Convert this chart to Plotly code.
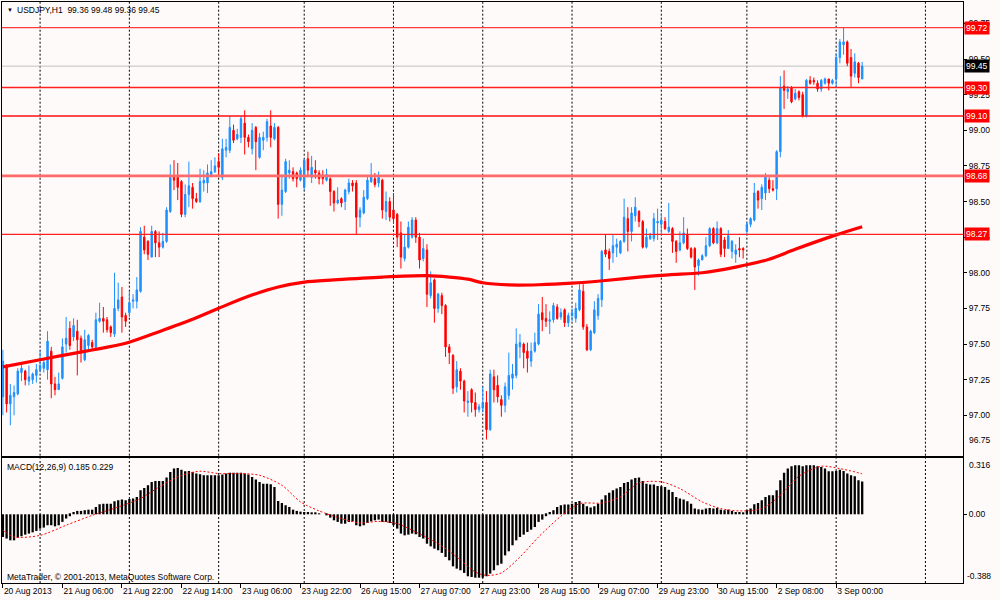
import plotly.graph_objects as go

# ---------------- data ----------------
OPEN = [
 97.13, 97.35, 97.08, 97.13, 97.15, 97.30, 97.31, 97.24, 97.25, 97.28,
 97.32, 97.33, 97.32, 97.45, 97.22, 97.18, 97.26, 97.50, 97.61, 97.55,
 97.59, 97.54, 97.39, 97.49, 97.51, 97.48, 97.66, 97.68, 97.67, 97.62,
 97.57, 97.75, 97.83, 97.70, 97.72, 97.80, 97.80, 97.87, 98.25, 98.22,
 98.11, 98.29, 98.21, 98.18, 98.22, 98.43, 98.68, 98.67, 98.64, 98.41,
 98.55, 98.60, 98.52, 98.50, 98.63, 98.63, 98.69, 98.71, 98.78, 98.67,
 98.86, 98.86, 99.00, 98.94, 98.95, 99.05, 98.95, 98.87, 99.02, 98.81,
 98.93, 98.95, 99.03, 98.94, 99.02, 98.48, 98.57, 98.70, 98.71, 98.70,
 98.65, 98.60, 98.80, 98.67, 98.72, 98.70, 98.68, 98.65, 98.66, 98.57,
 98.49, 98.52, 98.50, 98.57, 98.63, 98.63, 98.39, 98.42, 98.52, 98.64,
 98.66, 98.63, 98.65, 98.43, 98.50, 98.44, 98.41, 98.28, 98.10, 98.18,
 98.25, 98.37, 98.25, 98.10, 98.16, 97.84, 97.95, 97.75, 97.84, 97.77,
 97.48, 97.42, 97.20, 97.31, 97.24, 97.09, 97.18, 97.09, 97.04, 97.05,
 97.09, 96.90, 97.27, 97.21, 97.11, 97.07, 97.14, 97.26, 97.28, 97.48,
 97.50, 97.45, 97.38, 97.45, 97.50, 97.72, 97.68, 97.66, 97.67, 97.76,
 97.69, 97.74, 97.65, 97.70, 97.68, 97.74, 97.87, 97.62, 97.46, 97.58,
 97.70, 97.81, 98.16, 98.15, 98.14, 98.18, 98.14, 98.22, 98.38, 98.29,
 98.40, 98.43, 98.36, 98.18, 98.24, 98.24, 98.35, 98.34, 98.36, 98.29,
 98.31, 98.22, 98.16, 98.21, 98.27, 98.17, 98.17, 98.05, 98.09, 98.12,
 98.19, 98.31, 98.21, 98.31, 98.23, 98.17, 98.15, 98.13, 98.17, 98.17,
 98.29, 98.34, 98.37, 98.57, 98.52, 98.56, 98.65, 98.59, 98.59, 98.85,
 99.31, 99.27, 99.30, 99.22, 99.27, 99.25, 99.10, 99.35, 99.35, 99.33,
 99.29, 99.33, 99.36, 99.33, 99.36, 99.51, 99.60, 99.62, 99.51, 99.40,
 99.47, 99.36]

HIGH = [
 97.46, 97.36, 97.22, 97.21, 97.33, 97.36, 97.32, 97.35, 97.30, 97.36,
 97.45, 97.40, 97.59, 97.48, 97.27, 97.30, 97.54, 97.69, 97.66, 97.68,
 97.67, 97.56, 97.60, 97.57, 97.53, 97.72, 97.79, 97.76, 97.69, 97.63,
 98.00, 97.93, 97.90, 97.72, 97.87, 97.85, 97.97, 98.32, 98.33, 98.23,
 98.33, 98.30, 98.29, 98.28, 98.46, 98.76, 98.79, 98.77, 98.65, 98.62,
 98.78, 98.63, 98.56, 98.73, 98.72, 98.76, 98.79, 98.81, 98.84, 98.94,
 98.94, 99.10, 99.04, 99.01, 99.10, 99.14, 98.97, 99.05, 99.03, 98.98,
 98.99, 99.08, 99.14, 99.05, 99.03, 98.69, 98.80, 98.79, 98.74, 98.71,
 98.74, 98.80, 98.85, 98.82, 98.79, 98.72, 98.72, 98.73, 98.67, 98.58,
 98.60, 98.53, 98.59, 98.66, 98.65, 98.65, 98.46, 98.58, 98.68, 98.77,
 98.70, 98.71, 98.66, 98.57, 98.53, 98.56, 98.42, 98.36, 98.27, 98.36,
 98.39, 98.39, 98.28, 98.24, 98.20, 98.01, 97.96, 97.86, 97.86, 97.78,
 97.50, 97.43, 97.38, 97.33, 97.25, 97.17, 97.19, 97.16, 97.08, 97.20,
 97.17, 97.32, 97.32, 97.28, 97.14, 97.23, 97.44, 97.36, 97.61, 97.57,
 97.51, 97.51, 97.51, 97.58, 97.78, 97.83, 97.78, 97.73, 97.79, 97.78,
 97.75, 97.75, 97.72, 97.75, 97.79, 97.92, 97.92, 97.64, 97.60, 97.80,
 97.85, 98.16, 98.27, 98.17, 98.27, 98.24, 98.23, 98.52, 98.46, 98.46,
 98.53, 98.44, 98.37, 98.31, 98.28, 98.42, 98.45, 98.42, 98.39, 98.49,
 98.32, 98.23, 98.29, 98.39, 98.31, 98.18, 98.18, 98.10, 98.13, 98.25,
 98.32, 98.32, 98.36, 98.32, 98.25, 98.30, 98.23, 98.20, 98.25, 98.18,
 98.36, 98.39, 98.63, 98.58, 98.62, 98.70, 98.67, 98.65, 98.86, 99.38,
 99.42, 99.31, 99.31, 99.29, 99.28, 99.27, 99.36, 99.38, 99.37, 99.35,
 99.36, 99.37, 99.36, 99.36, 99.54, 99.64, 99.72, 99.63, 99.57, 99.54,
 99.48, 99.48]

LOW = [
 97.00, 97.02, 96.93, 97.00, 97.14, 97.24, 97.21, 97.21, 97.22, 97.23,
 97.30, 97.30, 97.25, 97.12, 97.14, 97.18, 97.25, 97.44, 97.46, 97.52,
 97.28, 97.37, 97.38, 97.45, 97.46, 97.46, 97.65, 97.58, 97.58, 97.55,
 97.55, 97.73, 97.58, 97.62, 97.69, 97.75, 97.75, 97.86, 98.13, 98.09,
 98.11, 98.11, 98.11, 98.17, 98.21, 98.42, 98.58, 98.51, 98.39, 98.39,
 98.46, 98.45, 98.49, 98.49, 98.57, 98.56, 98.67, 98.70, 98.67, 98.65,
 98.81, 98.84, 98.91, 98.93, 98.91, 98.83, 98.88, 98.83, 98.72, 98.80,
 98.86, 98.92, 98.88, 98.93, 98.38, 98.40, 98.56, 98.66, 98.64, 98.60,
 98.64, 98.58, 98.67, 98.63, 98.66, 98.62, 98.62, 98.64, 98.47, 98.43,
 98.48, 98.46, 98.44, 98.55, 98.57, 98.27, 98.32, 98.41, 98.51, 98.63,
 98.60, 98.60, 98.38, 98.37, 98.36, 98.35, 98.18, 98.03, 98.08, 98.17,
 98.24, 98.21, 98.03, 98.08, 97.76, 97.82, 97.65, 97.72, 97.71, 97.41,
 97.36, 97.15, 97.16, 97.18, 97.02, 96.99, 97.02, 96.99, 97.02, 97.02,
 96.83, 96.89, 97.09, 97.09, 96.99, 97.02, 97.11, 97.18, 97.26, 97.40,
 97.33, 97.30, 97.34, 97.44, 97.49, 97.59, 97.62, 97.57, 97.65, 97.67,
 97.67, 97.62, 97.62, 97.66, 97.65, 97.73, 97.60, 97.45, 97.45, 97.57,
 97.67, 97.76, 98.11, 98.02, 98.07, 98.11, 98.13, 98.21, 98.15, 98.22,
 98.36, 98.32, 98.17, 98.17, 98.23, 98.22, 98.23, 98.27, 98.30, 98.28,
 98.14, 98.07, 98.15, 98.20, 98.16, 98.10, 97.88, 97.98, 98.09, 98.11,
 98.18, 98.20, 98.20, 98.11, 98.11, 98.17, 98.10, 98.07, 98.11, 98.10,
 98.27, 98.32, 98.36, 98.45, 98.44, 98.51, 98.56, 98.57, 98.51, 98.81,
 99.15, 99.22, 99.19, 99.21, 99.21, 99.09, 99.09, 99.32, 99.32, 99.27,
 99.27, 99.32, 99.28, 99.32, 99.30, 99.47, 99.53, 99.45, 99.30, 99.37,
 99.33, 99.36]

CLOSE = [
 97.38, 97.08, 97.14, 97.16, 97.31, 97.33, 97.25, 97.27, 97.29, 97.32,
 97.35, 97.37, 97.52, 97.22, 97.18, 97.22, 97.48, 97.54, 97.49, 97.63,
 97.53, 97.44, 97.53, 97.56, 97.48, 97.67, 97.68, 97.66, 97.60, 97.58,
 97.75, 97.81, 97.69, 97.66, 97.79, 97.81, 97.88, 98.29, 98.16, 98.13,
 98.29, 98.21, 98.18, 98.22, 98.44, 98.67, 98.65, 98.60, 98.41, 98.55,
 98.61, 98.52, 98.50, 98.64, 98.65, 98.70, 98.71, 98.75, 98.74, 98.87,
 98.88, 99.02, 98.93, 98.97, 99.08, 98.95, 98.92, 99.00, 98.92, 98.95,
 98.95, 99.06, 98.95, 99.02, 98.48, 98.58, 98.78, 98.72, 98.66, 98.66,
 98.72, 98.79, 98.72, 98.74, 98.70, 98.66, 98.66, 98.69, 98.57, 98.49,
 98.51, 98.49, 98.58, 98.63, 98.61, 98.39, 98.44, 98.53, 98.65, 98.68,
 98.62, 98.67, 98.44, 98.50, 98.39, 98.38, 98.25, 98.11, 98.18, 98.32,
 98.37, 98.25, 98.09, 98.17, 97.85, 97.93, 97.75, 97.85, 97.77, 97.48,
 97.44, 97.19, 97.32, 97.24, 97.10, 97.10, 97.09, 97.04, 97.06, 97.09,
 96.90, 97.29, 97.18, 97.13, 97.07, 97.20, 97.28, 97.29, 97.50, 97.51,
 97.44, 97.40, 97.45, 97.51, 97.71, 97.67, 97.66, 97.67, 97.77, 97.68,
 97.72, 97.65, 97.70, 97.72, 97.75, 97.88, 97.62, 97.46, 97.59, 97.74,
 97.82, 98.15, 98.13, 98.10, 98.19, 98.20, 98.22, 98.39, 98.29, 98.42,
 98.46, 98.36, 98.18, 98.25, 98.26, 98.38, 98.36, 98.37, 98.31, 98.32,
 98.22, 98.15, 98.21, 98.28, 98.17, 98.11, 98.04, 98.09, 98.12, 98.19,
 98.31, 98.21, 98.31, 98.13, 98.17, 98.26, 98.22, 98.16, 98.16, 98.16,
 98.34, 98.38, 98.56, 98.51, 98.60, 98.68, 98.59, 98.58, 98.85, 99.30,
 99.28, 99.29, 99.20, 99.26, 99.23, 99.10, 99.35, 99.33, 99.34, 99.29,
 99.35, 99.36, 99.33, 99.35, 99.51, 99.62, 99.62, 99.47, 99.38, 99.48,
 99.37, 99.45]

# moving average (thick red line), sampled along the curve
MA_IDX = [0, 10, 15, 24, 33, 42, 51, 58, 66, 74, 81, 89, 102, 114, 120, 125,
          129, 136, 144, 153, 162, 171, 179, 188, 197, 206, 213, 224, 231]
MA_VAL = [97.34, 97.39, 97.415, 97.458, 97.505, 97.587, 97.674, 97.751, 97.835,
          97.90, 97.935, 97.95, 97.97, 97.98, 97.97, 97.955, 97.93, 97.915, 97.916,
          97.927, 97.946, 97.969, 97.986, 98.00, 98.04, 98.095, 98.165, 98.266, 98.323]

# MACD(12,26,9) main histogram
MACD_MAIN = [
 -0.128, -0.137, -0.147, -0.147, -0.132, -0.124, -0.115, -0.109, -0.102, -0.094,
 -0.081, -0.075, -0.062, -0.062, -0.068, -0.062, -0.043, -0.024, -0.011, 0.013,
 0.019, 0.019, 0.023, 0.026, 0.026, 0.041, 0.056, 0.060, 0.060, 0.060,
 0.073, 0.079, 0.083, 0.079, 0.087, 0.089, 0.098, 0.136, 0.149, 0.164,
 0.183, 0.188, 0.188, 0.188, 0.207, 0.239, 0.258, 0.262, 0.252, 0.243,
 0.245, 0.239, 0.230, 0.226, 0.220, 0.220, 0.220, 0.220, 0.220, 0.224,
 0.230, 0.234, 0.234, 0.234, 0.234, 0.230, 0.224, 0.211, 0.196, 0.183,
 0.173, 0.173, 0.169, 0.154, 0.075, 0.064, 0.051, 0.041, 0.026, 0.019,
 0.015, 0.013, 0.013, 0.011, 0.008, 0.004, 0.000, -0.006, -0.019, -0.034,
 -0.043, -0.053, -0.053, -0.043, -0.040, -0.062, -0.068, -0.062, -0.049, -0.040,
 -0.034, -0.030, -0.043, -0.043, -0.049, -0.062, -0.081, -0.109, -0.119, -0.115,
 -0.109, -0.113, -0.128, -0.137, -0.166, -0.181, -0.194, -0.203, -0.218, -0.241,
 -0.260, -0.294, -0.307, -0.316, -0.331, -0.350, -0.354, -0.358, -0.358, -0.358,
 -0.350, -0.335, -0.316, -0.288, -0.279, -0.232, -0.209, -0.175, -0.147, -0.128,
 -0.115, -0.100, -0.087, -0.072, -0.043, -0.030, -0.011, 0.013, 0.023, 0.041,
 0.051, 0.055, 0.055, 0.060, 0.070, 0.075, 0.060, 0.045, 0.038, 0.045,
 0.060, 0.083, 0.107, 0.121, 0.136, 0.145, 0.154, 0.177, 0.183, 0.196,
 0.205, 0.207, 0.188, 0.173, 0.168, 0.168, 0.160, 0.158, 0.154, 0.139,
 0.126, 0.098, 0.089, 0.083, 0.073, 0.060, 0.032, 0.028, 0.026, 0.032,
 0.036, 0.032, 0.036, 0.026, 0.023, 0.026, 0.019, 0.013, 0.013, 0.009,
 0.023, 0.032, 0.056, 0.064, 0.079, 0.098, 0.107, 0.107, 0.136, 0.192,
 0.234, 0.258, 0.271, 0.277, 0.277, 0.271, 0.277, 0.277, 0.277, 0.271,
 0.267, 0.258, 0.243, 0.243, 0.245, 0.252, 0.245, 0.230, 0.220, 0.215,
 0.192, 0.185]

# MACD signal line (dotted red), sampled along the curve
SIG_IDX = [0, 3, 10, 17, 24, 31, 37, 42, 48, 53, 58, 64, 69, 75, 80, 85, 91, 96,
           101, 106, 111, 117, 122, 127, 130, 134, 139, 144, 150, 155, 161, 166,
           171, 177, 182, 188, 193, 198, 204, 209, 214, 220, 225, 231]
SIG_VAL = [-0.090, -0.128, -0.119, -0.062, -0.006, 0.041, 0.089, 0.154, 0.220,
           0.243, 0.230, 0.230, 0.220, 0.164, 0.070, 0.019, -0.024, -0.049,
           -0.040, -0.053, -0.100, -0.166, -0.241, -0.326, -0.345, -0.331,
           -0.241, -0.128, -0.011, 0.060, 0.064, 0.098, 0.177, 0.183, 0.145,
           0.070, 0.032, 0.019, 0.032, 0.107, 0.215, 0.271, 0.258, 0.229]

# horizontal levels (red lines with price tags) and bid line
LEVELS = [99.72, 99.30, 99.10, 98.68, 98.27]
LEVEL_COLORS = ["#FF3B3B", "#FF2020", "#FF1010", "#FF6A6A", "#FF2020"]
LEVEL_WIDTHS = [1.3, 1.3, 1.3, 2.6, 1.3]
BID = 99.45

# axis labels
X_TICK_IDX = [0, 16, 32, 48, 64, 80, 96, 112, 128, 144, 160, 176, 192, 208, 224]
X_TICK_LABELS = ["20 Aug 2013", "21 Aug 06:00", "21 Aug 22:00", "22 Aug 14:00",
                 "23 Aug 06:00", "23 Aug 22:00", "26 Aug 15:00", "27 Aug 07:00",
                 "27 Aug 23:00", "28 Aug 15:00", "29 Aug 07:00", "29 Aug 23:00",
                 "30 Aug 15:00", "2 Sep 08:00", "3 Sep 00:00"]
DAY_GRID_IDX = [10, 34, 58, 81, 105, 129, 153, 177, 200, 224, 248]
PRICE_TICKS = [97.00, 97.25, 97.50, 97.75, 98.00, 98.25, 98.50, 98.75,
               99.00, 99.25, 99.50, 99.75]
PRICE_BOTTOM_LABEL = "96.75"
MACD_TOP_LABEL = "0.316"
MACD_BOTTOM_LABEL = "-0.388"

# ---------------- figure ----------------
FONT = "Liberation Sans, Arial, sans-serif"
FS = 8.5
BG = "#FFFAFA"
XR = [-0.24, 258.1]

bars = list(range(len(CLOSE)))

fig = go.Figure()
fig.add_trace(go.Candlestick(
    x=bars, open=OPEN, high=HIGH, low=LOW, close=CLOSE,
    increasing=dict(line=dict(color="#1E90FF", width=1), fillcolor="#1E90FF"),
    decreasing=dict(line=dict(color="#FF0000", width=1), fillcolor="#FF0000"),
    whiskerwidth=0, xaxis="x", yaxis="y", showlegend=False, hoverinfo="skip"))
fig.add_trace(go.Scatter(
    x=MA_IDX, y=MA_VAL, mode="lines",
    line=dict(color="#FF0000", width=3.2, shape="spline", smoothing=0.8),
    xaxis="x", yaxis="y", showlegend=False, hoverinfo="skip"))
fig.add_trace(go.Bar(
    x=bars, y=MACD_MAIN, width=0.62,
    marker=dict(color="#000000", line=dict(width=0)),
    xaxis="x2", yaxis="y2", showlegend=False, hoverinfo="skip"))
fig.add_trace(go.Scatter(
    x=SIG_IDX, y=SIG_VAL, mode="lines",
    line=dict(color="#FF0000", width=1, dash="2px,2px", shape="spline", smoothing=0.8),
    xaxis="x2", yaxis="y2", showlegend=False, hoverinfo="skip"))

shapes = []
for g in DAY_GRID_IDX:
    for yr in ("y domain", "y2 domain"):
        shapes.append(dict(type="line", xref="x", yref=yr, x0=g, x1=g, y0=0, y1=1,
                           line=dict(color="#000000", width=1, dash="2px,2px"),
                           layer="below"))
shapes.append(dict(type="line", xref="x domain", yref="y", x0=0, x1=1, y0=BID, y1=BID,
                   line=dict(color="#C0C0C0", width=1), layer="below"))
for lv, col, w in zip(LEVELS, LEVEL_COLORS, LEVEL_WIDTHS):
    shapes.append(dict(type="line", xref="x domain", yref="y", x0=0, x1=1, y0=lv, y1=lv,
                       line=dict(color=col, width=w)))

ann = []
def txt(text, x, xref, y, yref, xanchor="left", yanchor="middle", xshift=0, yshift=0,
        color="#000000", size=FS, bg=None):
    d = dict(text=text, x=x, xref=xref, y=y, yref=yref, xanchor=xanchor, yanchor=yanchor,
             xshift=xshift, yshift=yshift, showarrow=False,
             font=dict(family=FONT, size=size, color=color))
    if bg:
        d.update(bgcolor=bg, borderpad=1)
    ann.append(d)

for lv in LEVELS:
    txt(f"{lv:.2f}", 1, "paper", lv, "y", xshift=1, color="#FFFFFF", bg="#FF0000")
txt(f"{BID:.2f}", 1, "paper", BID, "y", xshift=1, color="#FFFFFF", bg="#000000")
txt(PRICE_BOTTOM_LABEL, 1, "paper", 0, "y domain", yanchor="bottom", xshift=4, yshift=9)
txt(MACD_TOP_LABEL, 1, "paper", 1, "y2 domain", yanchor="top", xshift=4, yshift=0)
txt(MACD_BOTTOM_LABEL, 1, "paper", 0, "y2 domain", yanchor="bottom", xshift=2, yshift=0)
txt("\u25BC", 0, "paper", 1, "paper", xanchor="center", xshift=7.5, yshift=-8, size=6)
txt("USDJPY,H1\u00a0\u00a099.36 99.48 99.36 99.45", 0, "paper", 1, "paper",
    xshift=13, yshift=-8)
txt("MACD(12,26,9) 0.185 0.229", 0, "paper", 1, "y2 domain", xshift=3, yshift=-8.5)
txt("MetaTrader, \u00a9 2001-2013, MetaQuotes Software Corp.", 0, "paper", 0, "y2 domain",
    xshift=3, yshift=6.5)

axis_common = dict(showline=True, mirror=True, linecolor="#000000", linewidth=1,
                   showgrid=False, zeroline=False)

fig.update_layout(
    width=1000, height=600,
    margin=dict(l=2, r=37, t=2, b=17),
    paper_bgcolor=BG, plot_bgcolor=BG,
    boxgap=0.45,
    showlegend=False,
    font=dict(family=FONT, size=FS, color="#000000"),
    xaxis=dict(domain=[0, 1], range=XR, anchor="y", showticklabels=False, ticks="",
               rangeslider=dict(visible=False), matches="x2", **axis_common),
    yaxis=dict(domain=[0.2191, 1], range=[96.7165, 99.900], side="right", anchor="x",
               tickvals=PRICE_TICKS, ticktext=[f"{v:.2f}" for v in PRICE_TICKS],
               ticks="outside", ticklen=3, tickcolor="#000000",
               tickfont=dict(family=FONT, size=FS, color="#000000"), **axis_common),
    xaxis2=dict(domain=[0, 1], range=XR, anchor="y2", tickvals=X_TICK_IDX,
                ticktext=X_TICK_LABELS, ticks="outside", ticklen=4, tickcolor="#000000",
                ticklabelposition="outside right",
                tickfont=dict(family=FONT, size=FS, color="#000000"), **axis_common),
    yaxis2=dict(domain=[0, 0.2146], range=[-0.388, 0.316], side="right", anchor="x2",
                tickvals=[0], ticktext=["0.00"], ticks="outside", ticklen=3,
                tickcolor="#000000",
                tickfont=dict(family=FONT, size=FS, color="#000000"), **axis_common),
    shapes=shapes, annotations=ann,
)

fig.write_html("out.html",
               config={"displayModeBar": False},
               post_script="document.body.style.margin='0';"
                           "document.body.style.overflow='hidden';"
                           "document.body.style.background='" + BG + "';")
